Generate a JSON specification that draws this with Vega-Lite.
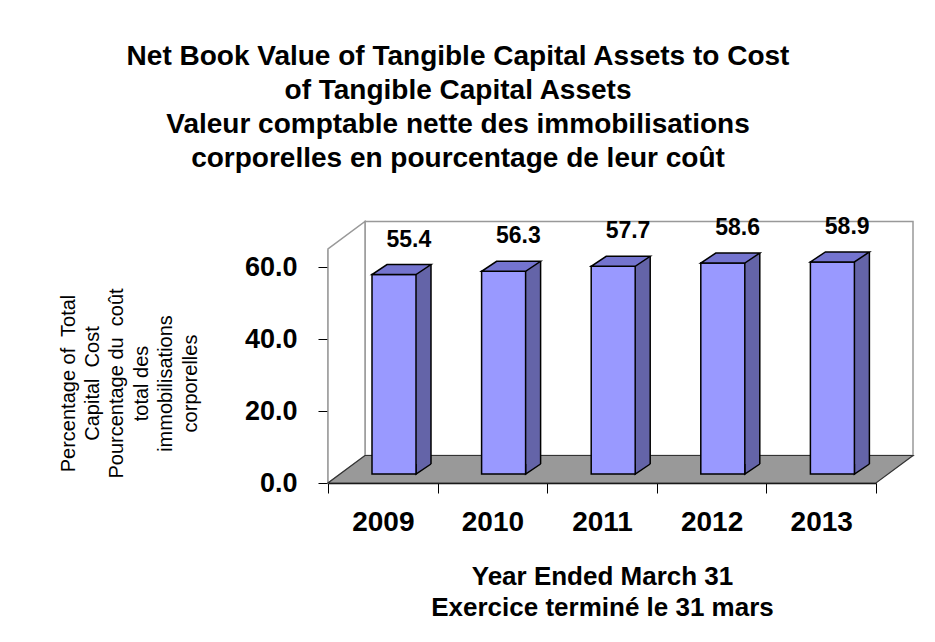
{
  "$schema": "https://vega.github.io/schema/vega-lite/v6.json",
  "width": 548,
  "height": 234,
  "autosize": {"type": "none"},
  "padding": {"left": 328, "top": 249, "right": 59, "bottom": 159},
  "background": "white",
  "config": {
    "view": {"stroke": null},
    "font": "Liberation Sans",
    "axis": {"zindex": 1}
  },
  "title": {
    "text": ["Net Book Value of Tangible Capital Assets to Cost", "\u00a0of Tangible Capital Assets", "\u00a0\u00a0\u00a0\u00a0Valeur comptable nette des immobilisations", "\u00a0\u00a0corporelles en pourcentage de leur coût"],
    "fontSize": 28,
    "fontWeight": "bold",
    "font": "Liberation Sans",
    "lineHeight": 34,
    "anchor": "middle",
    "frame": "group",
    "dx": -144,
    "offset": 43,
    "color": "black"
  },
  "data": {
    "values": [
      {"year": "2009", "value": 55.4},
      {"year": "2010", "value": 56.3},
      {"year": "2011", "value": 57.7},
      {"year": "2012", "value": 58.6},
      {"year": "2013", "value": 58.9}
    ]
  },
  "resolve": {"scale": {"x": "independent"}},
  "layer": [
    {
      "data": {"values": [{}]},
      "mark": {"type": "rect", "fill": "white", "stroke": "#999999", "strokeWidth": 1.5, "xOffset": 37, "x2Offset": 37, "yOffset": -27.5, "y2Offset": -27.5},
      "encoding": {
        "x": {"datum": 0, "type": "quantitative", "scale": {"domain": [0, 1], "nice": false, "zero": false}, "axis": null},
        "x2": {"datum": 1},
        "y": {"datum": 0, "type": "quantitative", "scale": {"domain": [0, 65], "nice": false}},
        "y2": {"datum": 65}
      }
    },
    {
      "data": {"values": [{}]},
      "mark": {"type": "point", "shape": "M0,0 L0,-234 L37,-261.5 L37,-27.5 Z", "size": 4, "filled": true, "fill": "white", "stroke": "#999999", "strokeWidth": 1.5, "opacity": 1},
      "encoding": {
        "x": {"datum": 0, "type": "quantitative", "scale": {"domain": [0, 1], "nice": false, "zero": false}, "axis": null},
        "y": {"datum": 0, "type": "quantitative", "scale": {"domain": [0, 65], "nice": false}}
      }
    },
    {
      "data": {"values": [{}]},
      "mark": {"type": "point", "shape": "M0,0 L548,0 L585,-27.5 L37,-27.5 Z", "size": 4, "filled": true, "fill": "#999999", "stroke": "#333333", "strokeWidth": 1.2, "opacity": 1},
      "encoding": {
        "x": {"datum": 0, "type": "quantitative", "scale": {"domain": [0, 1], "nice": false, "zero": false}, "axis": null},
        "y": {"datum": 0, "type": "quantitative", "scale": {"domain": [0, 65], "nice": false}}
      }
    },
    {
      "encoding": {
        "x": {
          "field": "year", "type": "nominal",
          "scale": {"type": "band", "paddingInner": 0, "paddingOuter": 0},
          "axis": {
            "title": ["Year Ended March 31", "Exercice terminé le 31 mars"],
            "labelFontSize": 28, "labelFontWeight": "bold", "labelColor": "black", "labelAngle": 0, "labelPadding": 15,
            "tickSize": 10, "tickColor": "black", "tickWidth": 1, "domainColor": "black", "domainWidth": 1.5, "tickBand": "extent",
            "titleFontSize": 26, "titleFontWeight": "bold", "titleLineHeight": 31, "titleBaseline": "alphabetic", "titleY": 101, "titleColor": "black"
          }
        }
      },
      "layer": [
        {
          "mark": {"type": "bar", "width": 15, "xOffset": 40.7, "x2Offset": 40.7, "yOffset": -19, "y2Offset": -19, "fill": "#6464A8", "strokeWidth": 0},
          "encoding": {
            "y": {"field": "value", "type": "quantitative", "scale": {"domain": [0, 65], "nice": false}},
            "y2": {"datum": 0}
          }
        },
        {
          "mark": {"type": "point", "shape": "M33.2,-19 L33.2,-9 L48.2,-19", "size": 4, "filled": true, "fill": "#6464A8", "stroke": "black", "strokeWidth": 1.5, "opacity": 1},
          "encoding": {
            "y": {"datum": 0, "type": "quantitative", "scale": {"domain": [0, 65], "nice": false}}
          }
        },
        {
          "mark": {"type": "rule", "xOffset": 48.2, "yOffset": -19, "y2Offset": -19, "stroke": "black", "strokeWidth": 1.5},
          "encoding": {
            "y": {"field": "value", "type": "quantitative", "scale": {"domain": [0, 65], "nice": false}},
            "y2": {"datum": 0}
          }
        },
        {
          "mark": {"type": "bar", "width": 44, "xOffset": 11.2, "x2Offset": 11.2, "yOffset": -9, "y2Offset": -9, "fill": "#9999FF", "stroke": "black", "strokeWidth": 1.5},
          "encoding": {
            "y": {
              "field": "value", "type": "quantitative",
              "scale": {"domain": [0, 65], "nice": false},
              "axis": {
                "values": [0, 20, 40, 60], "format": ".1f", "grid": false,
                "labelFontSize": 27, "labelFontWeight": "bold", "labelColor": "black", "labelPadding": 21,
                "tickSize": 10, "tickColor": "black", "tickWidth": 1, "domainColor": "black", "domainWidth": 1.5,
                "title": ["Percentage of\u00a0 Total", "Capital\u00a0 Cost", "Pourcentage du\u00a0 coût", "total des", "immobilisations", "corporelles"],
                "titleFontSize": 20, "titleFontWeight": "normal", "titleLineHeight": 24.4, "titleAngle": -90, "titleAlign": "center",
                "titleBaseline": "alphabetic", "titleX": -254, "titleY": 134, "titleColor": "black"
              }
            },
            "y2": {"datum": 0}
          }
        },
        {
          "mark": {"type": "point", "shape": "M-10.8,-9 L33.2,-9 L48.2,-19 L4.2,-19 Z", "size": 4, "filled": true, "fill": "#7474CF", "stroke": "black", "strokeWidth": 1.5, "opacity": 1},
          "encoding": {
            "y": {"field": "value", "type": "quantitative", "scale": {"domain": [0, 65], "nice": false}}
          }
        },
        {
          "mark": {"type": "text", "dx": 26, "dy": -44, "fontSize": 23, "fontWeight": "bold", "baseline": "middle", "align": "center", "color": "black"},
          "encoding": {
            "y": {"field": "value", "type": "quantitative", "scale": {"domain": [0, 65], "nice": false}},
            "text": {"field": "value", "type": "quantitative", "format": ".1f"}
          }
        }
      ]
    }
  ]
}
